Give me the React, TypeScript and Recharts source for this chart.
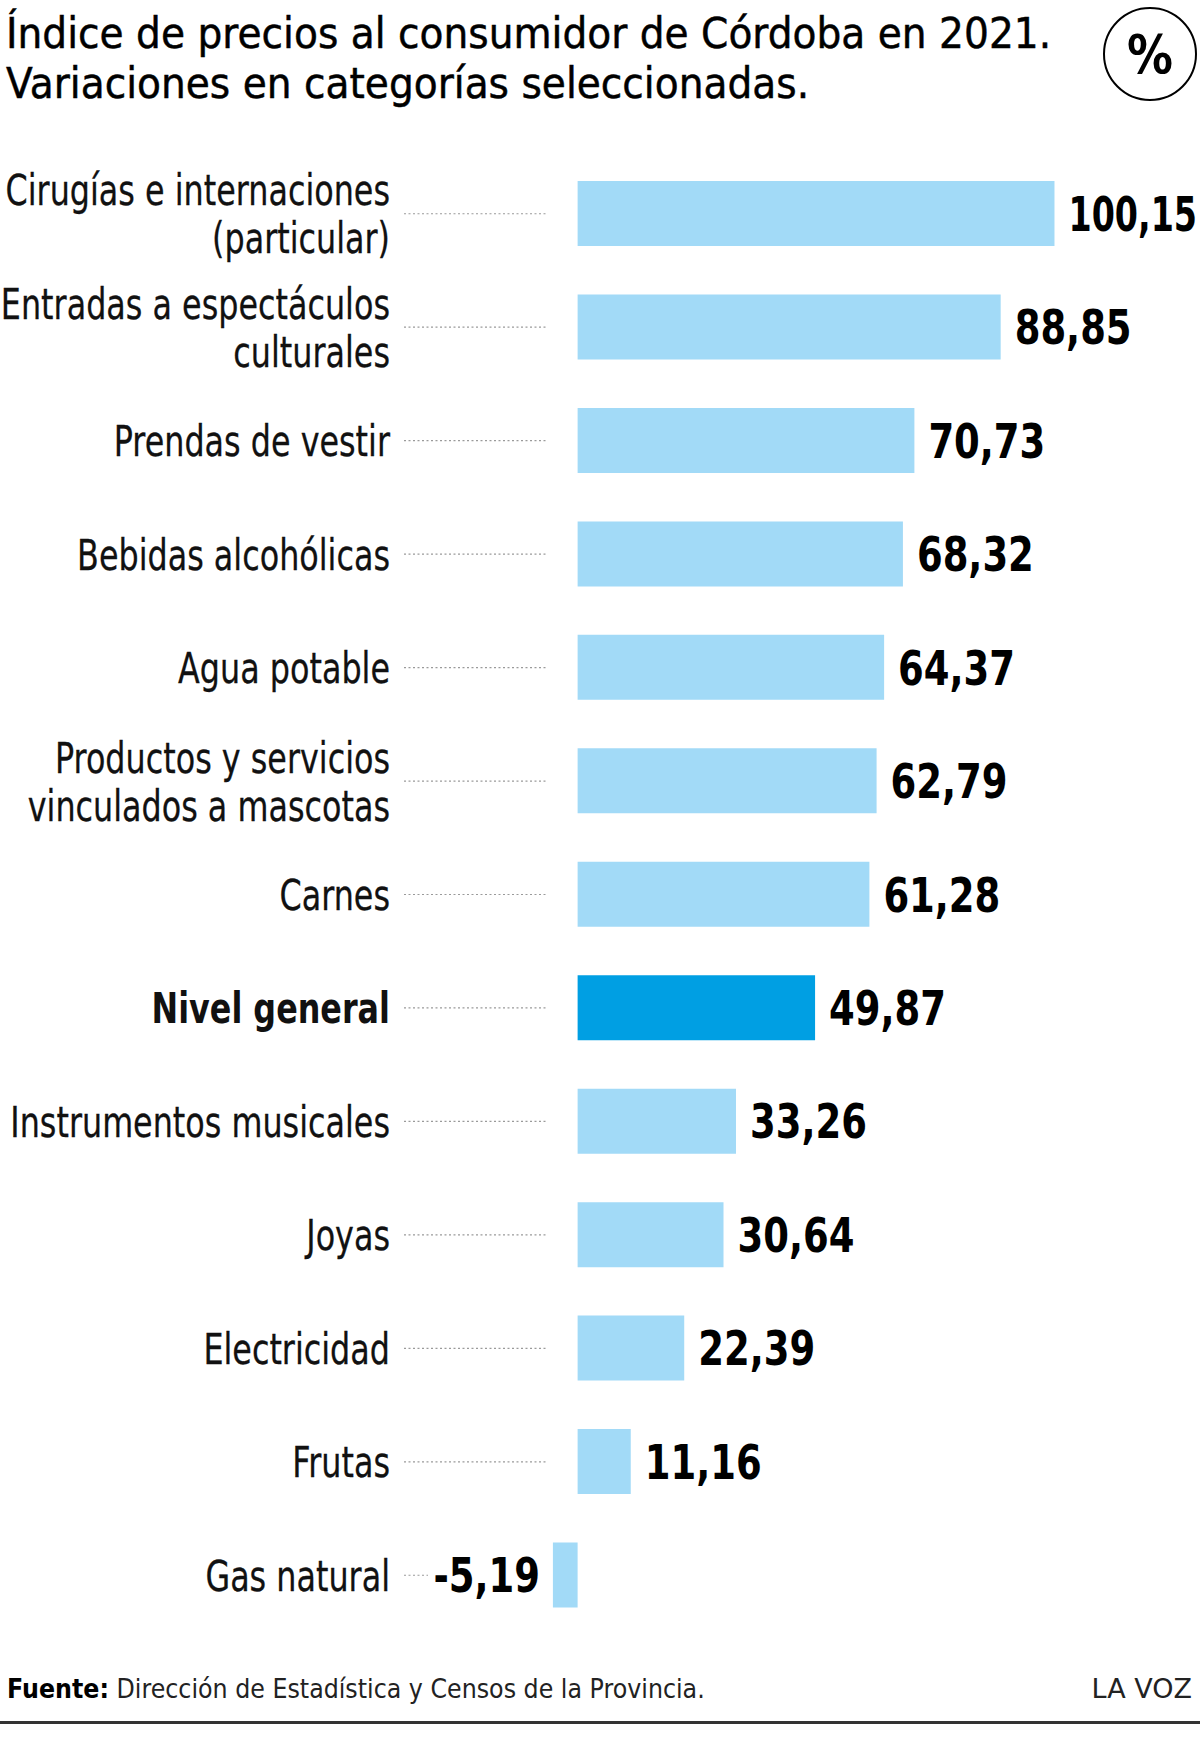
import React from 'react';
import { BarChart, Bar, XAxis, YAxis, Cell, LabelList } from 'recharts';

const categories = [
  'Cirugías e internaciones\n(particular)',
  'Entradas a espectáculos\nculturales',
  'Prendas de vestir',
  'Bebidas alcohólicas',
  'Agua potable',
  'Productos y servicios\nvinculados a mascotas',
  'Carnes',
  'Nivel general',
  'Instrumentos musicales',
  'Joyas',
  'Electricidad',
  'Frutas',
  'Gas natural'
];
const values = [100.15, 88.85, 70.73, 68.32, 64.37, 62.79, 61.28, 49.87, 33.26, 30.64, 22.39, 11.16, -5.19];
const highlight = 'Nivel general';

const title = ['Índice de precios al consumidor de Córdoba en 2021.', 'Variaciones en categorías seleccionadas.'];
const source = 'Dirección de Estadística y Censos de la Provincia.';

const FONT = "'DejaVu Sans', sans-serif";
const LIGHT = '#a2daf7';
const DARK = '#009fe3';
// the original uses a condensed face, so text is squeezed sideways
const SQUEEZE = 0.74;
const VALUE_SQUEEZE = 0.77;

const data = categories.map((name, i) => ({ name, value: values[i] }));

const fmt = (v: number) => v.toFixed(2).replace('.', ',');

let ctx: CanvasRenderingContext2D | null = null;
function measure(s: string, font: string) {
  if (!ctx) ctx = document.createElement('canvas').getContext('2d');
  if (!ctx) return s.length * 30;
  ctx.font = font;
  return ctx.measureText(s).width;
}

function CategoryTick(props: any) {
  const { y, payload } = props;
  const name: string = payload.value;
  const idx = categories.indexOf(name);
  const neg = values[idx] < 0;
  const lines = name.split('\n');
  const bold = name === highlight;
  return (
    <g>
      {lines.map((ln, i) => (
        <text
          key={i}
          transform={`translate(390 ${y + (i - (lines.length - 1) / 2) * 48}) scale(${SQUEEZE} 1)`}
          x={0}
          y={0}
          dy="0.36em"
          textAnchor="end"
          fontFamily={FONT}
          fontSize={43}
          fontWeight={bold ? 700 : 400}
          fill="#111"
          stroke="#111"
          strokeWidth={bold ? 0 : 0.3}
        >
          {ln}
        </text>
      ))}
      <line x1={404} x2={neg ? 428 : 547} y1={y} y2={y} stroke="#9a9a9a" strokeWidth={1.2} strokeDasharray="2 2.5" />
    </g>
  );
}

function ValueLabel(props: any) {
  const { x, y, width, height, value } = props;
  const v = Number(value);
  const left = Math.min(x, x + width);
  const right = Math.max(x, x + width);
  const tx = v < 0 ? left - 13 : right + 14;
  const label = fmt(v);
  const w = measure(label, `700 48px ${FONT}`);
  // keep the widest label inside the page
  const s = v < 0 ? VALUE_SQUEEZE : Math.min(VALUE_SQUEEZE, (1197 - tx) / w);
  return (
    <text
      transform={`translate(${tx} ${y + height / 2}) scale(${s} 1)`}
      x={0}
      y={0}
      dy="0.36em"
      textAnchor={v < 0 ? 'end' : 'start'}
      fontFamily={FONT}
      fontSize={48}
      fontWeight={700}
      fill="#000"
    >
      {label}
    </text>
  );
}

export default function App() {
  return (
    <div style={{ position: 'absolute', left: 0, top: 0, width: 1200, height: 1737, background: '#fff', overflow: 'hidden' }}>
      <div
        style={{
          position: 'absolute',
          left: 6,
          top: 8,
          fontFamily: FONT,
          fontSize: 43,
          lineHeight: '50px',
          color: '#000',
          WebkitTextStroke: '0.5px #000',
          whiteSpace: 'nowrap',
          transform: 'scaleX(0.91)',
          transformOrigin: 'left top'
        }}
      >
        {title.map((t, i) => (
          <div key={i}>{t}</div>
        ))}
      </div>
      <div
        style={{
          position: 'absolute',
          left: 1103,
          top: 7,
          width: 94,
          height: 94,
          borderRadius: '50%',
          border: '2px solid #000',
          boxSizing: 'border-box',
          display: 'flex',
          alignItems: 'center',
          justifyContent: 'center',
          fontFamily: FONT,
          fontWeight: 700,
          fontSize: 54
        }}
      >
        <span style={{ display: 'inline-block', transform: 'scaleX(0.85)' }}>%</span>
      </div>
      <div style={{ position: 'absolute', left: 0, top: 0 }}>
        <BarChart
          width={1200}
          height={1737}
          data={data}
          layout="vertical"
          margin={{ top: 157, right: 51, bottom: 105, left: 0 }}
          barSize={65}
        >
          <XAxis type="number" hide domain={[-10, 120]} />
          <YAxis type="category" dataKey="name" width={530} axisLine={false} tickLine={false} tick={<CategoryTick />} interval={0} />
          <Bar dataKey="value" isAnimationActive={false}>
            {data.map((d, i) => (
              <Cell key={i} fill={d.name === highlight ? DARK : LIGHT} />
            ))}
            <LabelList dataKey="value" content={<ValueLabel />} />
          </Bar>
        </BarChart>
      </div>
      <div
        style={{
          position: 'absolute',
          left: 7,
          top: 1673,
          fontFamily: FONT,
          fontSize: 27,
          color: '#222',
          whiteSpace: 'nowrap',
          transform: 'scaleX(0.88)',
          transformOrigin: 'left top'
        }}
      >
        <b style={{ color: '#000' }}>Fuente:</b> {source}
      </div>
      <div
        style={{
          position: 'absolute',
          right: 8,
          top: 1673,
          fontFamily: FONT,
          fontSize: 27,
          color: '#222',
          whiteSpace: 'nowrap'
        }}
      >
        LA VOZ
      </div>
      <div style={{ position: 'absolute', left: 0, top: 1721, width: 1200, height: 3, background: '#333' }} />
    </div>
  );
}
